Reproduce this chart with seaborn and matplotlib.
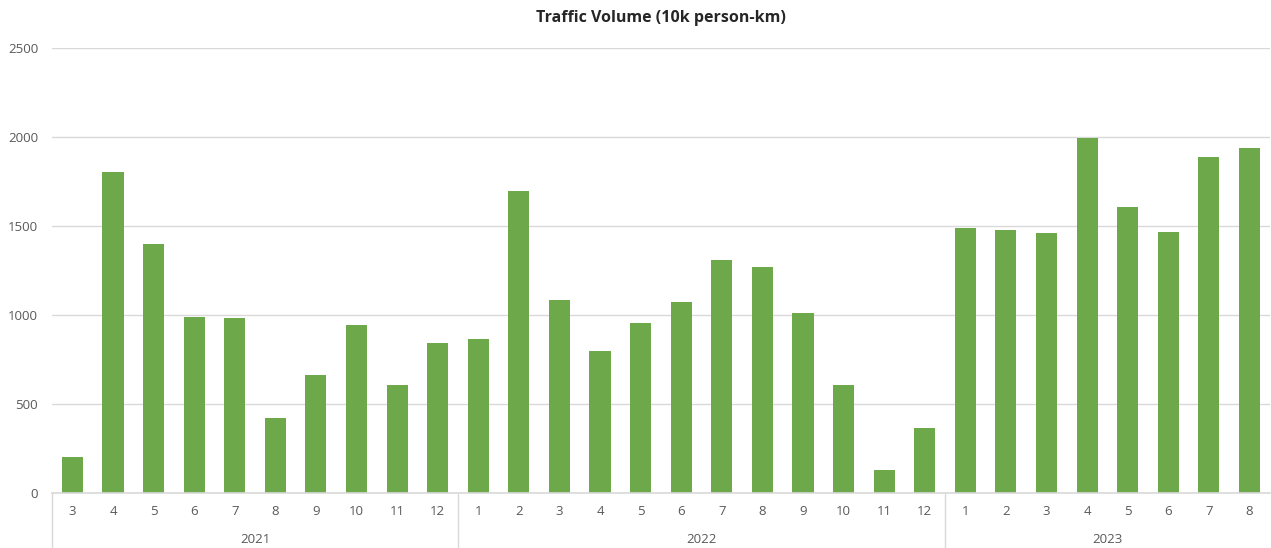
import pandas as pd
import matplotlib.pyplot as plt
import matplotlib.transforms as mtransforms
import seaborn as sns

# Данные
years = ["2021"] * 10 + ["2022"] * 12 + ["2023"] * 8
months = [3, 4, 5, 6, 7, 8, 9, 10, 11, 12,
          1, 2, 3, 4, 5, 6, 7, 8, 9, 10, 11, 12,
          1, 2, 3, 4, 5, 6, 7, 8]
volume = [202, 1803, 1397, 989, 985, 421, 663, 944, 607, 843,
          865, 1697, 1084, 798, 955, 1073, 1309, 1270, 1011, 608, 129, 365,
          1489, 1480, 1462, 1994, 1607, 1466, 1888, 1938]

df = pd.DataFrame({"year": years, "month": months, "volume": volume})
df["key"] = df["year"] + "-" + df["month"].astype(str)

sns.set_style("white")
plt.rcParams["font.family"] = ["Open Sans", "DejaVu Sans"]

fig = plt.figure(figsize=(12.71, 5.48), dpi=100)
ax = fig.add_axes([0.041, 0.1004, 0.958, 0.812])

sns.barplot(data=df, x="key", y="volume", color="#6DA84A", saturation=1,
            width=0.52, linewidth=0, ax=ax)

ax.set_ylim(0, 2500)
ax.set_xlim(-0.5, len(df) - 0.5)
ax.set_yticks(range(0, 2501, 500))
ax.yaxis.grid(True, color="#D9D9D9", linewidth=1)
ax.set_axisbelow(True)
for s in ["top", "right", "left"]:
    ax.spines[s].set_visible(False)
ax.spines["bottom"].set_color("#D9D9D9")
ax.spines["bottom"].set_linewidth(1.2)

ax.set_xticks(range(len(df)))
ax.set_xticklabels(df["month"].astype(str))
ax.tick_params(axis="both", length=0, labelsize=9.5, labelcolor="#595959")
ax.tick_params(axis="x", pad=9)
ax.tick_params(axis="y", pad=10)
ax.set_xlabel("")
ax.set_ylabel("")

# Подписи годов и разделители групп
trans = mtransforms.blended_transform_factory(ax.transData, ax.transAxes)
start = 0
bounds = [-0.5]
for y in ["2021", "2022", "2023"]:
    n = years.count(y)
    mid = start + (n - 1) / 2
    ax.text(mid, -0.105, y, transform=trans, ha="center", va="center",
            fontsize=9.5, color="#595959")
    start += n
    bounds.append(start - 0.5)
for b in bounds[:-1]:
    ax.plot([b, b], [0, -0.125], transform=trans, color="#D9D9D9",
            linewidth=1, clip_on=False)

ax.set_title("Traffic Volume (10k person-km)", fontsize=11.5,
             fontweight="bold", color="#262626", pad=19)

plt.savefig("out.png", dpi=100)
